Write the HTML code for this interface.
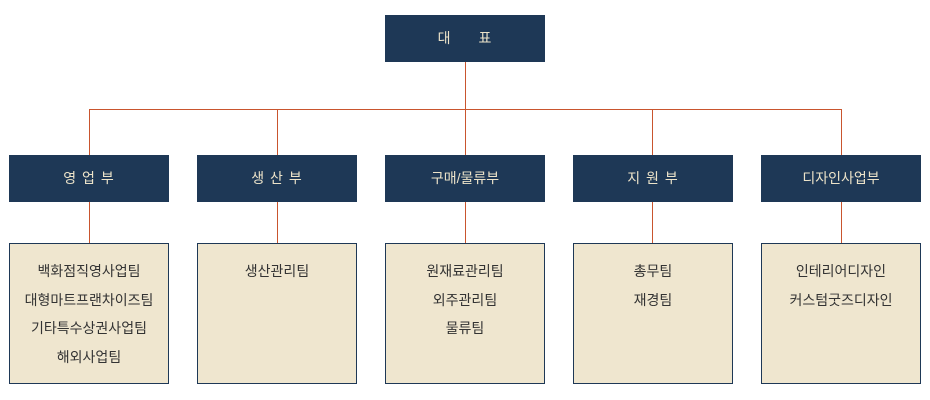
<!DOCTYPE html>
<html><head><meta charset="utf-8"><style>
body{margin:0;width:930px;height:400px;background:#fff;position:relative;overflow:hidden;font-family:"Liberation Sans","Noto Sans CJK KR",sans-serif}
.b{position:absolute;background:#1e3856;color:#ece3c9;font-size:14px;text-align:center;line-height:47px;height:47px;width:160px;letter-spacing:1px}
.t{position:absolute;top:243px;width:158px;height:139px;background:#efe6cf;border:1px solid #1e3856;color:#333;font-size:14px;text-align:center;line-height:28.5px;padding-top:13px;box-sizing:border-box;height:141px;width:160px}
.l{position:absolute;background:#c9552e}
</style></head><body>
<div class="l" style="left:465px;top:62px;width:1px;height:47px"></div>
<div class="l" style="left:89px;top:109px;width:753px;height:1px"></div>
<div class="l" style="left:89px;top:109px;width:1px;height:46px"></div>
<div class="l" style="left:277px;top:109px;width:1px;height:46px"></div>
<div class="l" style="left:465px;top:109px;width:1px;height:46px"></div>
<div class="l" style="left:652px;top:109px;width:1px;height:46px"></div>
<div class="l" style="left:841px;top:109px;width:1px;height:46px"></div>
<div class="l" style="left:89px;top:202px;width:1px;height:41px"></div>
<div class="l" style="left:277px;top:202px;width:1px;height:41px"></div>
<div class="l" style="left:465px;top:202px;width:1px;height:41px"></div>
<div class="l" style="left:652px;top:202px;width:1px;height:41px"></div>
<div class="l" style="left:841px;top:202px;width:1px;height:41px"></div>
<div class="b" style="left:385px;top:15px;word-spacing:22px">대 표</div>
<div class="b" style="left:9px;top:155px">영 업 부</div>
<div class="b" style="left:197px;top:155px">생 산 부</div>
<div class="b" style="left:385px;top:155px;letter-spacing:0">구매/물류부</div>
<div class="b" style="left:573px;top:155px">지 원 부</div>
<div class="b" style="left:761px;top:155px;letter-spacing:0">디자인사업부</div>
<div class="t" style="left:9px">백화점직영사업팀<br>대형마트프랜차이즈팀<br>기타특수상권사업팀<br>해외사업팀</div>
<div class="t" style="left:197px">생산관리팀</div>
<div class="t" style="left:385px">원재료관리팀<br>외주관리팀<br>물류팀</div>
<div class="t" style="left:573px">총무팀<br>재경팀</div>
<div class="t" style="left:761px">인테리어디자인<br>커스텀굿즈디자인</div>
</body></html>
